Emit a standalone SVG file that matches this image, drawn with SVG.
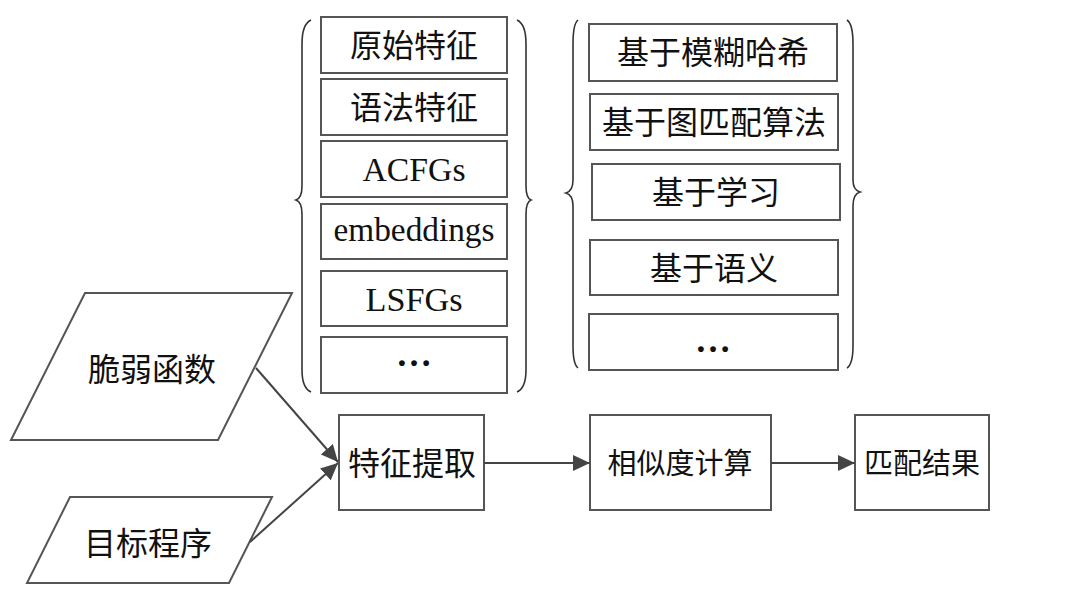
<svg xmlns="http://www.w3.org/2000/svg" width="1088" height="600" viewBox="0 0 1088 600">
<defs>
<style>
.box{fill:#fff;stroke:#555;stroke-width:2}
.brace{fill:none;stroke:#333;stroke-width:1.6}
.cn{font-family:"Noto Sans CJK SC","Liberation Serif",serif;font-size:32px;fill:#111;text-anchor:middle}
.cn28{font-family:"Noto Sans CJK SC","Liberation Serif",serif;font-size:29px;fill:#111;text-anchor:middle}
.en{font-family:"Liberation Serif","Times New Roman",serif;font-size:33px;fill:#111;text-anchor:middle}
.dots{font-family:"Liberation Serif","Times New Roman",serif;font-size:36px;font-weight:bold;fill:#111;text-anchor:middle}
.conn{fill:none;stroke:#444;stroke-width:2}
</style>
<marker id="arr" markerUnits="userSpaceOnUse" markerWidth="18" markerHeight="16" viewBox="0 0 18 16" refX="17" refY="8" orient="auto">
<path d="M0,0 L17,8 L0,16 Z" fill="#444"/>
</marker>
</defs>
<rect width="1088" height="600" fill="#fff"/>

<g id="features">
<path class="brace" d="M311,20 Q302,24 302,44 L302,186 Q302,198 296,200 Q302,202 302,214 L302,370 Q302,388 311,392"/>
<path class="brace" d="M517,20 Q526,24 526,44 L526,186 Q526,198 531,200 Q526,202 526,214 L526,370 Q526,388 517,392"/>
<g id="f1"><rect class="box" x="321" y="17" width="186" height="56"/><text class="cn" x="414" y="57">原始特征</text></g>
<g id="f2"><rect class="box" x="321" y="79" width="186" height="56"/><text class="cn" x="414" y="119">语法特征</text></g>
<g id="f3"><rect class="box" x="321" y="141" width="186" height="56"/><text class="en" x="414" y="181" textLength="103" lengthAdjust="spacingAndGlyphs">ACFGs</text></g>
<g id="f4"><rect class="box" x="321" y="204" width="186" height="55"/><text class="en" x="414" y="241" textLength="161" lengthAdjust="spacingAndGlyphs">embeddings</text></g>
<g id="f5"><rect class="box" x="321" y="271" width="186" height="55"/><text class="en" x="414" y="311" textLength="97" lengthAdjust="spacingAndGlyphs">LSFGs</text></g>
<g id="f6"><rect class="box" x="321" y="337" width="186" height="56"/><text class="dots" x="414" y="366">…</text></g>
</g>

<g id="methods">
<path class="brace" d="M578,20 Q573,24 573,44 L573,180 Q573,191 566,193 Q573,195 573,206 L573,346 Q573,364 578,368"/>
<path class="brace" d="M847,20 Q853,24 853,44 L853,180 Q853,190 860,192 Q853,194 853,206 L853,346 Q853,364 847,368"/>
<g id="m1"><rect class="box" x="589" y="24" width="248" height="57"/><text class="cn" x="713" y="64">基于模糊哈希</text></g>
<g id="m2"><rect class="box" x="590" y="94" width="248" height="56"/><text class="cn" x="714" y="134">基于图匹配算法</text></g>
<g id="m3"><rect class="box" x="592" y="164" width="248" height="56"/><text class="cn" x="716" y="204">基于学习</text></g>
<g id="m4"><rect class="box" x="590" y="240" width="248" height="55"/><text class="cn" x="714" y="280">基于语义</text></g>
<g id="m5"><rect class="box" x="589" y="314" width="249" height="56"/><text class="dots" x="713" y="352">…</text></g>
</g>

<g id="vuln"><polygon class="box" points="85,293 292,293 218,440 11,440"/><text class="cn" x="152" y="381">脆弱函数</text></g>
<g id="target"><polygon class="box" points="70,497 272,497 229,583 27,583"/><text class="cn" x="148" y="555">目标程序</text></g>
<g id="extract"><rect class="box" x="339" y="415" width="145" height="95"/><text class="cn" x="412" y="475">特征提取</text></g>
<g id="similar"><rect class="box" x="590" y="415" width="181" height="95"/><text class="cn28" x="680" y="474">相似度计算</text></g>
<g id="result"><rect class="box" x="855" y="415" width="134" height="95"/><text class="cn28" x="922" y="474">匹配结果</text></g>

<g id="connectors">
<line class="conn" x1="256" y1="368" x2="338" y2="462" marker-end="url(#arr)"/>
<line class="conn" x1="250" y1="542" x2="338" y2="463" marker-end="url(#arr)"/>
<line class="conn" x1="484" y1="463" x2="590" y2="463" marker-end="url(#arr)"/>
<line class="conn" x1="771" y1="463" x2="855" y2="463" marker-end="url(#arr)"/>
</g>
</svg>
